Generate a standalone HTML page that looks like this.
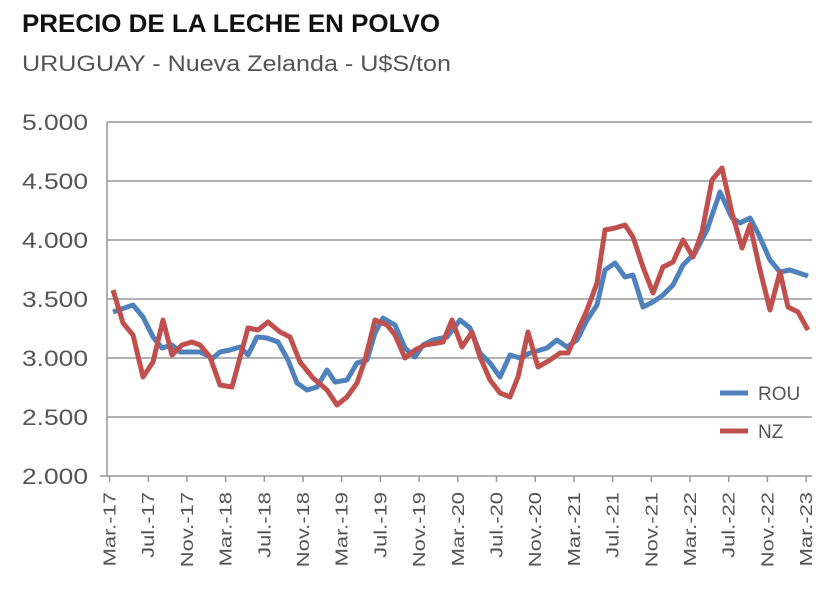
<!DOCTYPE html>
<html><head><meta charset="utf-8"><style>
body{margin:0;background:#fff;}
svg{display:block;font-family:"Liberation Sans",sans-serif;}
</style></head><body>
<svg width="840" height="595" viewBox="0 0 840 595" xmlns="http://www.w3.org/2000/svg">
<text x="22" y="32" font-size="25" font-weight="bold" fill="#111" textLength="418" lengthAdjust="spacingAndGlyphs">PRECIO DE LA LECHE EN POLVO</text>
<text x="22" y="71" font-size="22" fill="#555" textLength="429" lengthAdjust="spacingAndGlyphs">URUGUAY - Nueva Zelanda - U$S/ton</text>
<g stroke="#999" stroke-width="1.5">
<line x1="107" y1="122" x2="812" y2="122"/>
<line x1="107" y1="181" x2="812" y2="181"/>
<line x1="107" y1="240" x2="812" y2="240"/>
<line x1="107" y1="299" x2="812" y2="299"/>
<line x1="107" y1="358" x2="812" y2="358"/>
<line x1="107" y1="417" x2="812" y2="417"/>
<line x1="100" y1="476" x2="812" y2="476"/>
<line x1="107" y1="122" x2="107" y2="476"/>
</g>
<g font-size="22" fill="#555" text-anchor="end">
<text x="88" y="130" textLength="66" lengthAdjust="spacingAndGlyphs">5.000</text><text x="88" y="189" textLength="66" lengthAdjust="spacingAndGlyphs">4.500</text><text x="88" y="248" textLength="66" lengthAdjust="spacingAndGlyphs">4.000</text>
<text x="88" y="307" textLength="66" lengthAdjust="spacingAndGlyphs">3.500</text><text x="88" y="366" textLength="66" lengthAdjust="spacingAndGlyphs">3.000</text><text x="88" y="425" textLength="66" lengthAdjust="spacingAndGlyphs">2.500</text><text x="88" y="484" textLength="66" lengthAdjust="spacingAndGlyphs">2.000</text>
</g>
<g id="ticks" stroke="#999" stroke-width="1.5"></g>
<g id="xl" font-size="18" fill="#555" text-anchor="end"></g>
<polyline fill="none" stroke="#4f81bd" stroke-width="5" stroke-linejoin="round" points="113,312 133,305 143,317 153,337 162,348 172,345 180,352 200,352 213,358 220,352 230,350 240,347 248,355 257,337 267,338 278,342 288,360 297,383 307,390 317,387 327,370 335,382 347,380 357,363 367,360 375,333 383,318 395,325 405,348 415,357 423,345 433,340 447,337 460,320 470,328 480,353 490,363 500,377 510,355 520,358 530,353 547,348 557,340 567,347 577,340 587,320 597,305 605,270 615,263 625,277 633,275 643,307 653,302 663,295 673,285 683,265 695,253 707,230 720,192 732,218 740,223 750,218 758,233 770,260 780,272 790,270 808,276"/>
<polyline fill="none" stroke="#c0504d" stroke-width="5" stroke-linejoin="round" points="113,290 123,323 133,335 143,377 153,362 163,320 172,355 182,345 192,342 200,345 210,357 220,385 232,387 248,328 258,330 268,322 280,332 290,337 300,362 313,378 327,390 337,405 347,397 357,383 365,360 375,320 387,325 395,335 405,358 415,350 425,345 443,342 452,320 462,347 472,332 480,357 490,380 500,393 510,397 518,377 528,332 538,367 550,360 560,353 568,353 578,330 587,310 597,283 605,230 615,228 625,225 633,237 643,267 653,293 663,267 673,262 683,240 693,257 702,232 712,180 722,168 732,213 742,248 750,225 760,270 770,310 780,272 788,307 798,312 808,330"/>
<line x1="720" y1="393" x2="748" y2="393" stroke="#4f81bd" stroke-width="5"/>
<text x="758" y="400" font-size="19" fill="#555">ROU</text>
<line x1="720" y1="431" x2="748" y2="431" stroke="#c0504d" stroke-width="5"/>
<text x="758" y="438" font-size="19" fill="#555">NZ</text>
</svg>
<script>
var labs=["Mar.-17","Jul.-17","Nov.-17","Mar.-18","Jul.-18","Nov.-18","Mar.-19","Jul.-19","Nov.-19","Mar.-20","Jul.-20","Nov.-20","Mar.-21","Jul.-21","Nov.-21","Mar.-22","Jul.-22","Nov.-22","Mar.-23"];
var t=document.getElementById("ticks"),xl=document.getElementById("xl"),ns="http://www.w3.org/2000/svg";
labs.forEach(function(l,i){var x=109.5+i*38.7;
var ln=document.createElementNS(ns,"line");ln.setAttribute("x1",x);ln.setAttribute("x2",x);ln.setAttribute("y1",476);ln.setAttribute("y2",482);t.appendChild(ln);
var tx=document.createElementNS(ns,"text");tx.setAttribute("transform","translate("+(x+6)+",492) rotate(-90) scale(1.22,1)");tx.textContent=l;xl.appendChild(tx);});
</script>
</body></html>
